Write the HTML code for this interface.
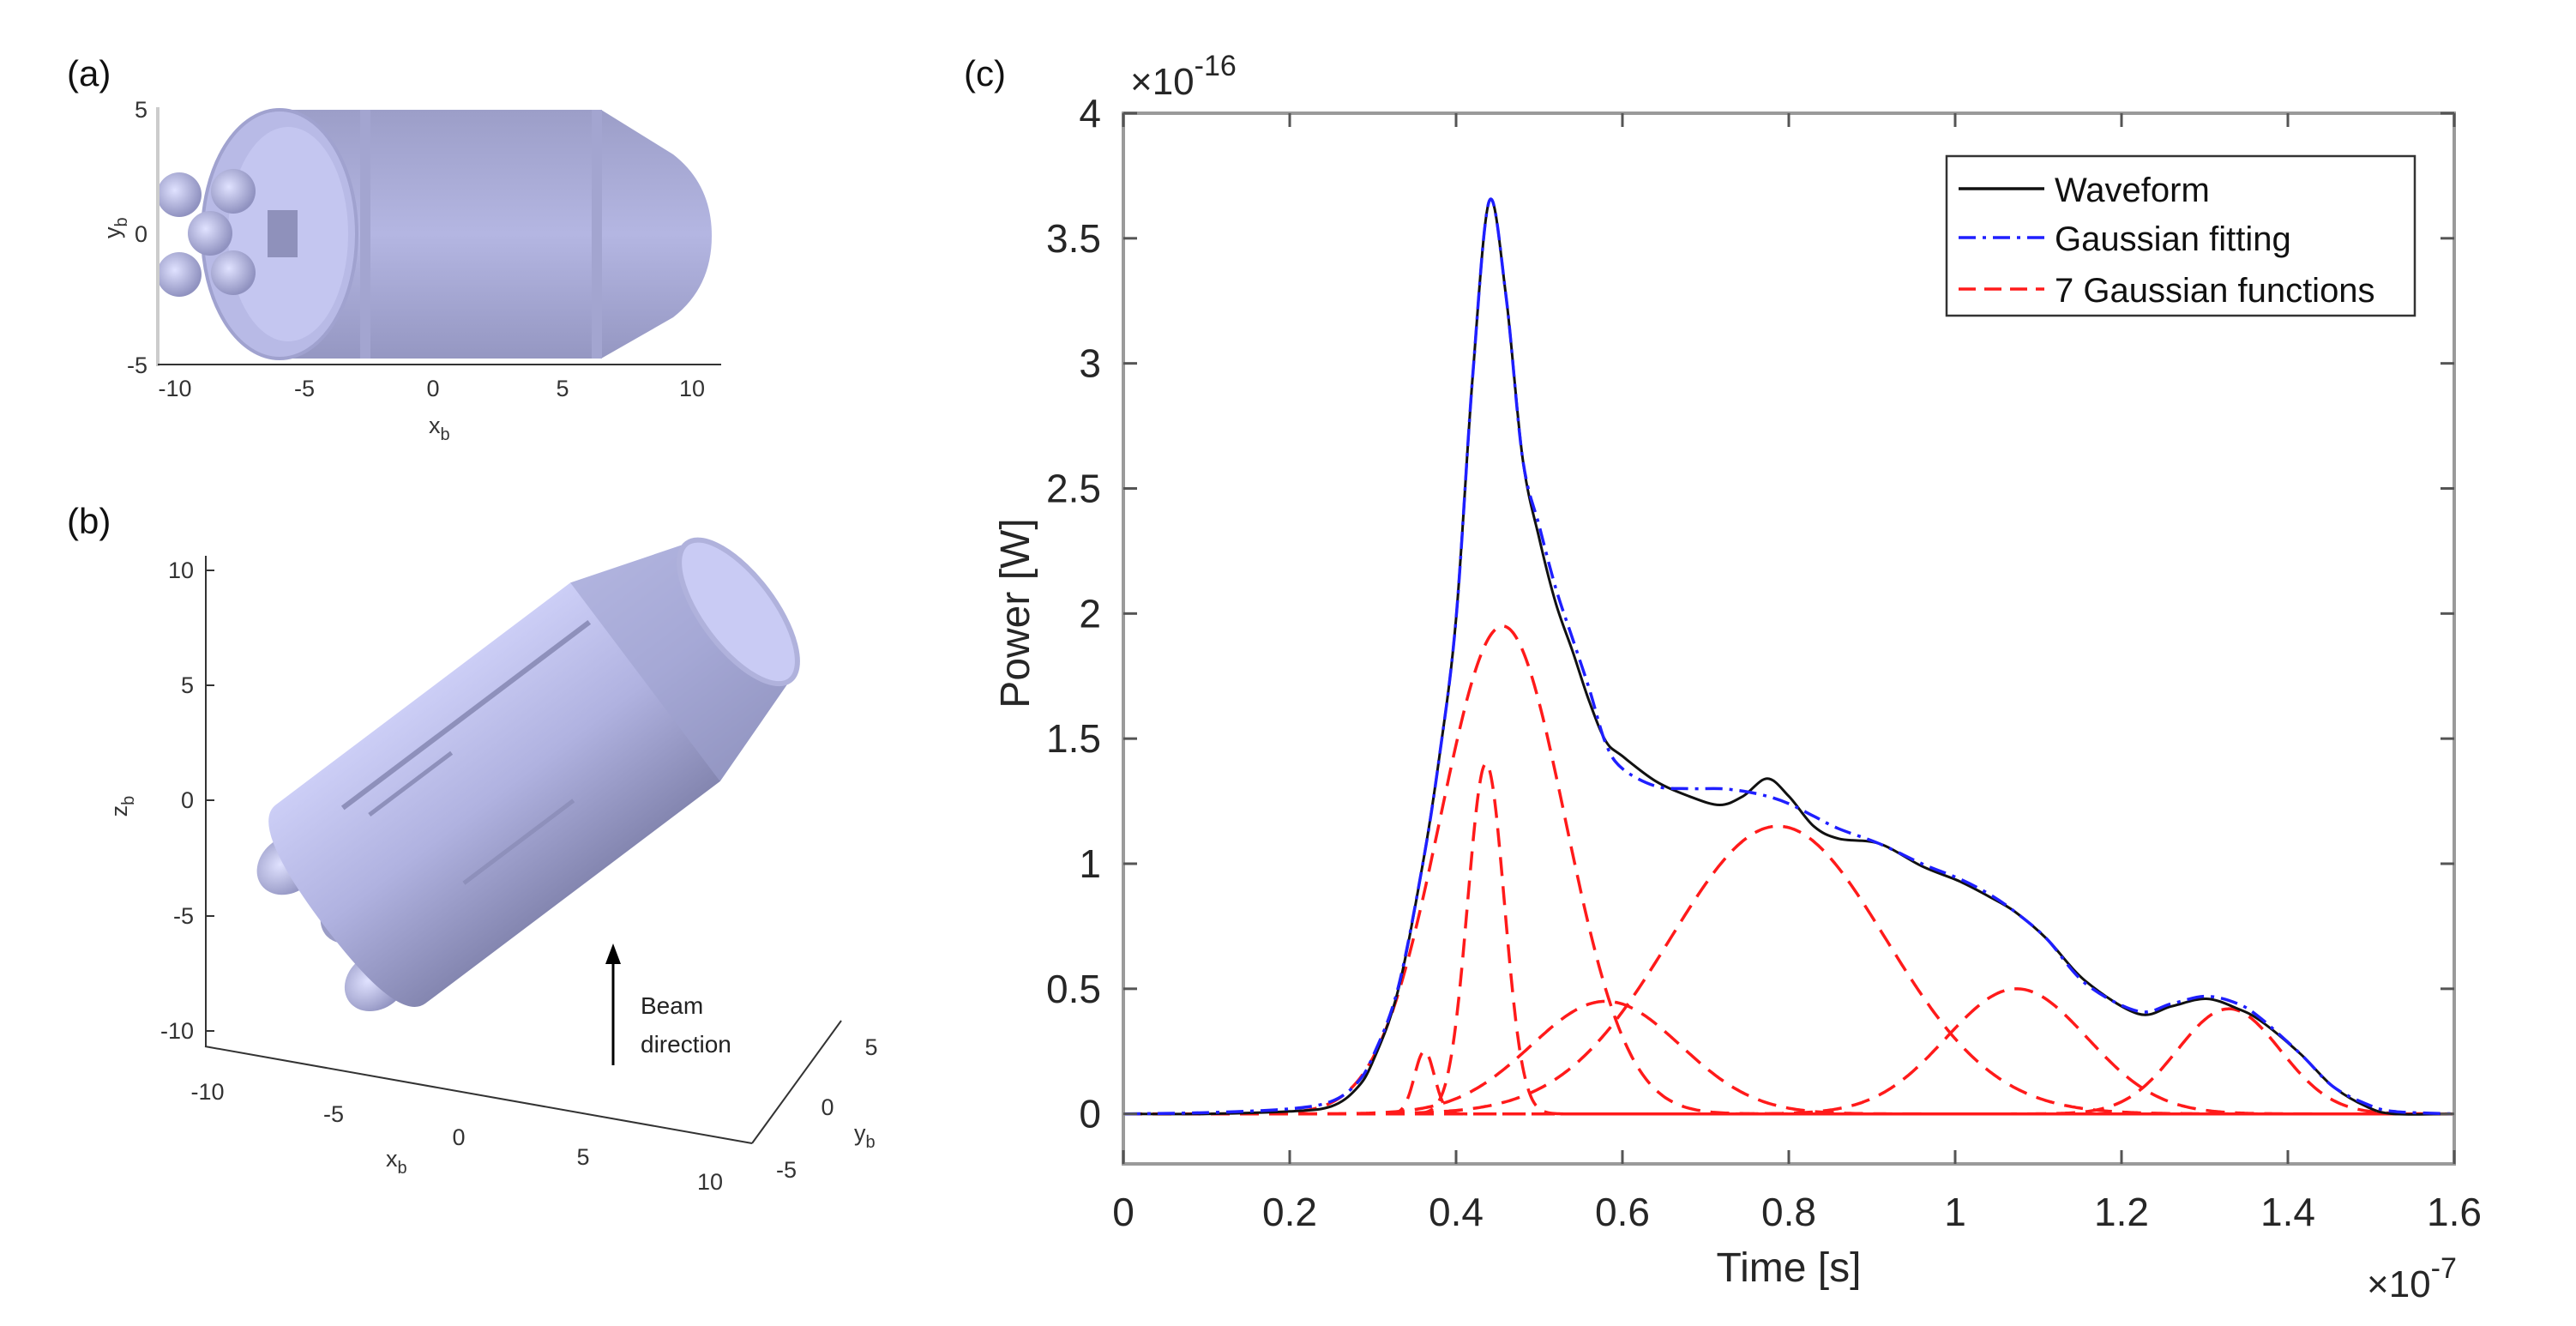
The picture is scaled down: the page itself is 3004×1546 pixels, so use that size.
<!DOCTYPE html>
<html><head><meta charset="utf-8">
<style>
html,body{margin:0;padding:0;background:#fff;}
svg{display:block;font-family:"Liberation Sans",Arial,sans-serif;}
</style></head>
<body>
<svg id="fig" width="3004" height="1546" viewBox="0 0 3004 1546" xmlns="http://www.w3.org/2000/svg">
<defs>
<linearGradient id="bodyA" x1="0" y1="0" x2="0" y2="1">
<stop offset="0" stop-color="#9c9ec8"/><stop offset="0.5" stop-color="#b4b6e2"/><stop offset="1" stop-color="#9597c2"/>
</linearGradient>
<linearGradient id="bodyB" x1="0" y1="0" x2="0" y2="1">
<stop offset="0" stop-color="#ccceF6"/><stop offset="0.5" stop-color="#b0b2e0"/><stop offset="1" stop-color="#8486b0"/>
</linearGradient>
<radialGradient id="eng" cx="0.4" cy="0.4" r="0.6">
<stop offset="0" stop-color="#e0e2ff"/><stop offset="1" stop-color="#9092c0"/>
</radialGradient>
</defs>

<!-- Panel (a) -->
<g>
<text x="78" y="100" font-size="42" fill="#111">(a)</text>
<g>
<path d="M326,128 L701,128 L785,180 Q830,215 830,275 Q830,335 785,370 L701,418 L326,418 Z" fill="url(#bodyA)"/>
<rect x="420" y="128" width="12" height="290" fill="#a3a5d0"/>
<rect x="690" y="128" width="12" height="290" fill="#a3a5d0"/>
<ellipse cx="326" cy="273" rx="90" ry="145" fill="#b8bae6" stroke="#a0a2cf" stroke-width="4"/>
<ellipse cx="336" cy="273" rx="70" ry="125" fill="#c4c6f0"/>
<rect x="312" y="245" width="35" height="55" fill="#8f91bb"/>
<ellipse cx="209" cy="227" rx="26" ry="26" fill="url(#eng)"/>
<ellipse cx="272" cy="223" rx="26" ry="26" fill="url(#eng)"/>
<ellipse cx="245" cy="272" rx="26" ry="26" fill="url(#eng)"/>
<ellipse cx="209" cy="320" rx="26" ry="26" fill="url(#eng)"/>
<ellipse cx="272" cy="318" rx="26" ry="26" fill="url(#eng)"/>
</g>
<g stroke="#333" stroke-width="2" fill="none">
<line x1="184" y1="125" x2="184" y2="427" stroke="#ccc" stroke-width="4"/>
<line x1="184" y1="425" x2="841" y2="425"/>
</g>
<g font-size="27" fill="#333">
<text x="172" y="137" text-anchor="end">5</text>
<text x="172" y="282" text-anchor="end">0</text>
<text x="172" y="435" text-anchor="end">-5</text>
<text x="204" y="462" text-anchor="middle">-10</text>
<text x="355" y="462" text-anchor="middle">-5</text>
<text x="505" y="462" text-anchor="middle">0</text>
<text x="656" y="462" text-anchor="middle">5</text>
<text x="807" y="462" text-anchor="middle">10</text>
<text x="500" y="505">x<tspan font-size="20" dy="8">b</tspan></text>
<text transform="translate(140,278) rotate(-90)">y<tspan font-size="20" dy="8">b</tspan></text>
</g>
</g>

<!-- Panel (b) -->
<g>
<text x="78" y="622" font-size="42" fill="#111">(b)</text>
<g transform="translate(409,1054) rotate(-37)">
<ellipse cx="-30" cy="-80" rx="40" ry="32" fill="url(#eng)"/>
<ellipse cx="-30" cy="90" rx="40" ry="32" fill="url(#eng)"/>
<ellipse cx="-10" cy="10" rx="35" ry="30" fill="#9a9cc6"/>
<path d="M0,-145 L430,-145 L566,-100 L566,100 L430,145 L0,145 Q-40,145 -40,0 Q-40,-145 0,-145 Z" fill="url(#bodyB)"/>
<path d="M430,-145 L566,-100 L566,100 L430,145 Z" fill="#9fa1cf" opacity="0.6"/>
<ellipse cx="566" cy="0" rx="42" ry="100" fill="#c9cbf4" stroke="#b0b2dc" stroke-width="6"/>
<line x1="60" y1="-95" x2="420" y2="-95" stroke="#8e90bb" stroke-width="6"/>
<line x1="80" y1="-70" x2="200" y2="-70" stroke="#8e90bb" stroke-width="5"/>
<line x1="120" y1="60" x2="280" y2="60" stroke="#8e90bb" stroke-width="5"/>
</g>
<g stroke="#333" stroke-width="2" fill="none">
<line x1="240" y1="648" x2="240" y2="1220"/>
<line x1="239" y1="1220" x2="877" y2="1333"/>
<line x1="877" y1="1333" x2="981" y2="1190"/>
<line x1="240" y1="665" x2="250" y2="665"/>
<line x1="240" y1="799" x2="250" y2="799"/>
<line x1="240" y1="933" x2="250" y2="933"/>
<line x1="240" y1="1068" x2="250" y2="1068"/>
<line x1="240" y1="1202" x2="250" y2="1202"/>
</g>
<g font-size="27" fill="#333">
<text x="226" y="674" text-anchor="end">10</text>
<text x="226" y="808" text-anchor="end">5</text>
<text x="226" y="942" text-anchor="end">0</text>
<text x="226" y="1077" text-anchor="end">-5</text>
<text x="226" y="1211" text-anchor="end">-10</text>
<text x="242" y="1282" text-anchor="middle">-10</text>
<text x="389" y="1308" text-anchor="middle">-5</text>
<text x="535" y="1335" text-anchor="middle">0</text>
<text x="680" y="1358" text-anchor="middle">5</text>
<text x="828" y="1387" text-anchor="middle">10</text>
<text x="1016" y="1230" text-anchor="middle">5</text>
<text x="965" y="1300" text-anchor="middle">0</text>
<text x="917" y="1373" text-anchor="middle">-5</text>
<text x="450" y="1360">x<tspan font-size="20" dy="8">b</tspan></text>
<text x="996" y="1330">y<tspan font-size="20" dy="8">b</tspan></text>
<text transform="translate(148,940) rotate(-90)" text-anchor="middle">z<tspan font-size="20" dy="8">b</tspan></text>
</g>
<g>
<line x1="715" y1="1242" x2="715" y2="1115" stroke="#000" stroke-width="3"/>
<path d="M715,1100 L706,1124 L724,1124 Z" fill="#000"/>
<text x="747" y="1182" font-size="28" fill="#222">Beam</text>
<text x="747" y="1227" font-size="28" fill="#222">direction</text>
</g>
</g>

<!-- Panel (c) -->
<text x="1124" y="100" font-size="42" fill="#111">(c)</text>
<g id="chart"></g>
</svg>

<script>
const tValues = [0,0.1,0.2,0.25,0.28,0.3,0.33,0.36,0.38,0.40,0.42,0.44,0.46,0.48,0.50,0.52,0.54,0.56,0.58,0.60,0.64,0.68,0.717,0.745,0.774,0.80,0.83,0.86,0.909,0.96,1.005,1.04,1.071,1.11,1.157,1.22,1.26,1.302,1.34,1.368,1.415,1.454,1.494,1.527,1.6];
const waveformValues = [0,0,0.01,0.03,0.1,0.21,0.49,1.0,1.43,1.98,2.95,3.65,3.27,2.62,2.3,2.04,1.85,1.65,1.49,1.43,1.33,1.27,1.235,1.27,1.34,1.27,1.15,1.10,1.08,0.99,0.93,0.87,0.81,0.70,0.53,0.40,0.43,0.46,0.42,0.37,0.24,0.11,0.03,0.0,0];
const fitValues = [0,0.005,0.02,0.05,0.12,0.23,0.5,1.0,1.43,1.98,2.95,3.65,3.27,2.62,2.35,2.1,1.9,1.7,1.48,1.38,1.31,1.30,1.30,1.29,1.27,1.24,1.19,1.14,1.08,1.0,0.94,0.88,0.81,0.70,0.52,0.41,0.44,0.47,0.44,0.38,0.24,0.11,0.04,0.01,0];
const gaussAmp = [0.25,1.40,1.95,0.45,1.15,0.50,0.42];
const gaussCenter = [0.362,0.436,0.456,0.58,0.787,1.074,1.329];
const gaussWidth = [0.012,0.022,0.075,0.09,0.13,0.085,0.062];
const xTicks = [0,0.2,0.4,0.6,0.8,1,1.2,1.4,1.6];
const xTickLabels = ["0","0.2","0.4","0.6","0.8","1","1.2","1.4","1.6"];
const yTicks = [0,0.5,1,1.5,2,2.5,3,3.5,4];
const yTickLabels = ["0","0.5","1","1.5","2","2.5","3","3.5","4"];

const NS = "http://www.w3.org/2000/svg";
const L = 1310, R = 2862, T = 132, B = 1357;
const xMin = 0, xMax = 1.6, yMin = -0.2, yMax = 4;
const xs = v => L + (v - xMin) / (xMax - xMin) * (R - L);
const ys = v => B - (v - yMin) / (yMax - yMin) * (B - T);
const chart = document.getElementById('chart');
function mk(tag, attrs, parent) {
  const e = document.createElementNS(NS, tag);
  for (const k in attrs) e.setAttribute(k, attrs[k]);
  (parent || chart).appendChild(e);
  return e;
}
function smoothPath(pts) {
  let d = "M" + pts[0][0].toFixed(1) + "," + pts[0][1].toFixed(1);
  for (let i = 0; i < pts.length - 1; i++) {
    const p0 = pts[Math.max(0, i - 1)], p1 = pts[i], p2 = pts[i + 1], p3 = pts[Math.min(pts.length - 1, i + 2)];
    const c1x = p1[0] + (p2[0] - p0[0]) / 6, c1y = p1[1] + (p2[1] - p0[1]) / 6;
    const c2x = p2[0] - (p3[0] - p1[0]) / 6, c2y = p2[1] - (p3[1] - p1[1]) / 6;
    d += " C" + c1x.toFixed(1) + "," + c1y.toFixed(1) + " " + c2x.toFixed(1) + "," + c2y.toFixed(1) + " " + p2[0].toFixed(1) + "," + p2[1].toFixed(1);
  }
  return d;
}

for (let g = 0; g < gaussAmp.length; g++) {
  const pts = [];
  for (let i = 0; i <= 400; i++) {
    const t = xMin + (xMax - xMin) * i / 400;
    const v = gaussAmp[g] * Math.exp(-Math.pow(t - gaussCenter[g], 2) / (2 * gaussWidth[g] * gaussWidth[g]));
    pts.push([xs(t), ys(v)]);
  }
  const p = mk('path', {d: smoothPath(pts), fill: 'none', stroke: '#ff1a1a', 'stroke-width': 3.5, 'stroke-dasharray': '22,12'});
  
  
}
const wp = mk('path', {d: smoothPath(tValues.map((t, i) => [xs(t), ys(waveformValues[i])])), fill: 'none', stroke: '#111', 'stroke-width': 3});


const fp = mk('path', {d: smoothPath(tValues.map((t, i) => [xs(t), ys(fitValues[i])])), fill: 'none', stroke: '#1f1fff', 'stroke-width': 3.5, 'stroke-dasharray': '20,8,4,8'});



const box = mk('rect', {x: L, y: T, width: R - L, height: B - T, fill: 'none', stroke: '#9a9a9a', 'stroke-width': 4});



xTicks.forEach((v, i) => {
  const x = xs(v);
  mk('line', {x1: x, y1: B, x2: x, y2: B - 16, stroke: '#555', 'stroke-width': 3});
  mk('line', {x1: x, y1: T, x2: x, y2: T + 16, stroke: '#555', 'stroke-width': 3});
  const t = mk('text', {x: x, y: B + 72, 'font-size': 46, fill: '#262626', 'text-anchor': 'middle'});
  t.textContent = xTickLabels[i];
  
  
});
yTicks.forEach((v, i) => {
  const y = ys(v);
  mk('line', {x1: L, y1: y, x2: L + 16, y2: y, stroke: '#555', 'stroke-width': 3});
  mk('line', {x1: R, y1: y, x2: R - 16, y2: y, stroke: '#555', 'stroke-width': 3});
  const t = mk('text', {x: L - 26, y: y + 16, 'font-size': 46, fill: '#262626', 'text-anchor': 'end'});
  t.textContent = yTickLabels[i];
  
  
});

const xl = mk('text', {x: 2086, y: 1494, 'font-size': 48, fill: '#262626', 'text-anchor': 'middle'});
xl.textContent = 'Time [s]';


const yl = mk('text', {transform: 'translate(1200,715) rotate(-90)', 'font-size': 48, fill: '#262626', 'text-anchor': 'middle'});
yl.textContent = 'Power [W]';



const xe = mk('text', {x: 2760, y: 1512, 'font-size': 44, fill: '#262626'});
xe.innerHTML = '×10<tspan font-size="34" dy="-22">-7</tspan>';


const ye = mk('text', {x: 1318, y: 110, 'font-size': 44, fill: '#262626'});
ye.innerHTML = '×10<tspan font-size="34" dy="-22">-16</tspan>';



const lg = mk('g', {});


mk('rect', {x: 2270, y: 182, width: 546, height: 186, fill: '#fff', stroke: '#333', 'stroke-width': 2.5}, lg);
const entries = [
  ['Waveform', '#111', 'none', 220],
  ['Gaussian fitting', '#1f1fff', '20,8,4,8', 277],
  ['7 Gaussian functions', '#ff1a1a', '20,10', 337]
];
entries.forEach(e => {
  const g = mk('g', {}, lg);
  
  
  mk('line', {x1: 2284, y1: e[3], x2: 2384, y2: e[3], stroke: e[1], 'stroke-width': 3.5, 'stroke-dasharray': e[2]}, g);
  const t = mk('text', {x: 2396, y: e[3] + 15, 'font-size': 40, fill: '#111'}, g);
  t.textContent = e[0];
});
</script>
</body></html>
